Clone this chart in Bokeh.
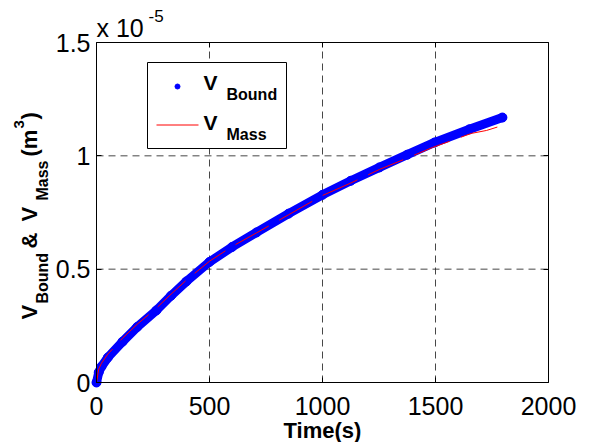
import math
from bokeh.plotting import figure
from bokeh.models import (Range1d, FixedTicker, Label, LinearAxis,
                          CustomJSTickFormatter)
from bokeh.embed import file_html
from bokeh.resources import INLINE

# ---- data (volumes in units of 1e-5 m^3) ----
t_bound = [0, 10, 22, 50, 115, 180, 265, 330, 398, 500, 600, 708, 850, 1000,
           1125, 1252, 1375, 1496, 1650, 1796]
v_bound = [0, 0.045, 0.07, 0.11, 0.18, 0.245, 0.318, 0.383, 0.446, 0.532, 0.598,
           0.662, 0.745, 0.828, 0.89, 0.949, 1.005, 1.059, 1.117, 1.169]
t_mass = [0, 10, 22, 50, 115, 180, 265, 330, 398, 500, 600, 708, 850, 1000,
          1125, 1252, 1375, 1487, 1659, 1726, 1796]
v_mass = [0, 0.06, 0.085, 0.125, 0.195, 0.257, 0.328, 0.39, 0.452, 0.535, 0.6,
          0.66, 0.74, 0.825, 0.88, 0.94, 0.99, 1.037, 1.099, 1.112, 1.134]
x_ticks = [0, 500, 1000, 1500, 2000]
y_ticks = [0, 0.5, 1, 1.5]
XMIN, XMAX, YMIN, YMAX = 0, 2000, 0, 1.5

# axes box geometry (page pixels)
AL, AR, AT, AB = 97, 549, 43, 383
AW, AH = AR - AL, AB - AT
OFF = 1            # canvas offset on the page
W, H = 586, 442    # canvas size (the frame fills the canvas)
SH = 7             # measured baseline shift of rendered labels


def dx(px):
    return XMIN + (px - AL) * (XMAX - XMIN) / AW


def dy(py):
    return YMIN + (AB - py) * (YMAX - YMIN) / AH


p = figure(width=W, height=H, min_border=0,
           x_range=Range1d(dx(OFF), dx(OFF + W)), y_range=Range1d(dy(OFF + H), dy(OFF)),
           x_axis_location=None, y_axis_location=None,
           output_backend="svg", toolbar_location=None,
           background_fill_color="white", border_fill_color="white")
p.outline_line_color = None
p.grid.visible = False

fmt = CustomJSTickFormatter(code="return String(tick)")
blank = CustomJSTickFormatter(code="return ''")


def make_axis(ticks, loc, bounds, labels):
    ax = LinearAxis(ticker=FixedTicker(ticks=ticks), fixed_location=loc, bounds=bounds,
                    formatter=fmt if labels else blank,
                    major_label_text_font="Liberation Sans",
                    major_label_text_font_size="25px" if labels else "8px",
                    major_label_text_color="black",
                    axis_line_color="black", axis_line_width=1,
                    major_tick_line_color="black", major_tick_in=5, major_tick_out=0,
                    minor_tick_line_color=None)
    return ax


xb = make_axis(x_ticks, YMIN, (XMIN, XMAX), True)
xb.major_label_standoff = 14
yl = make_axis(y_ticks, XMIN, (YMIN, YMAX), True)
yl.major_label_standoff = 6
xt = make_axis(x_ticks, YMAX, (XMIN, XMAX), False)
yr = make_axis(y_ticks, XMAX, (YMIN, YMAX), False)
p.add_layout(xb, "below")
p.add_layout(yl, "left")
p.add_layout(xt, "above")
p.add_layout(yr, "right")

# dashed grid inside the axes box
gx = x_ticks[1:-1]
gy = y_ticks[1:-1]
p.segment(x0=gx, x1=gx, y0=[YMIN] * len(gx), y1=[YMAX] * len(gx),
          line_color="#333333", line_dash="7 5", line_width=1, line_alpha=0.9)
p.segment(x0=[XMIN] * len(gy), x1=[XMAX] * len(gy), y0=gy, y1=gy,
          line_color="#333333", line_dash="7 5", line_width=1, line_alpha=0.9)

# legend box
p.quad(left=[dx(148)], right=[dx(287)], top=[dy(63)], bottom=[dy(149)],
       fill_color="white", line_color="black", line_width=1)

# data
p.line(t_bound, v_bound, line_color="#0000ff", line_width=9,
       line_join="round", line_cap="round")
p.scatter(t_bound, v_bound, size=9, color="#0000ff")
p.line(t_mass, v_mass, line_color="#ff0000", line_width=1, line_dash="38 12")

# legend glyphs
p.scatter([dx(178)], [dy(87)], size=5, color="#0000ff")
p.line([dx(157), dx(199)], [dy(125.5), dy(125.5)], line_color="#ff0000", line_width=1)


def lab(text, px, py, size, bold=True, align="left"):
    p.add_layout(Label(x=dx(px), y=dy(py - SH), text=text, text_font="Liberation Sans",
                       text_font_size=f"{size}px",
                       text_font_style="bold" if bold else "normal",
                       text_color="black", text_align=align,
                       text_baseline="alphabetic"))


def rlab(text, px, py, size, bold=True):
    p.add_layout(Label(x=dx(px - SH), y=dy(py), text=text, text_font="Liberation Sans",
                       text_font_size=f"{size}px",
                       text_font_style="bold" if bold else "normal",
                       text_color="black", text_align="left",
                       text_baseline="alphabetic", angle=math.pi / 2))


# legend texts
lab("V", 204, 90, 21)
lab("Bound", 227, 102, 16)
lab("V", 204, 130, 21)
lab("Mass", 227, 142, 16)

# exponent
lab("x 10", 97, 35, 25, bold=False)
lab("-5", 149, 23, 17, bold=False)

# x label
lab("Time(s)", 323, 438, 22, align="center")

# y label pieces (rotated)
rlab("V", 37, 320, 22)
rlab("Bound", 50, 304, 16)
rlab("&", 37, 249, 22)
rlab("V", 37, 222, 22)
rlab("Mass", 50, 201, 16)
rlab("(m", 37, 157, 22)
rlab("3", 26, 129, 15)
rlab(")", 37, 120, 22)

open("out.html", "w").write(file_html(p, INLINE))
